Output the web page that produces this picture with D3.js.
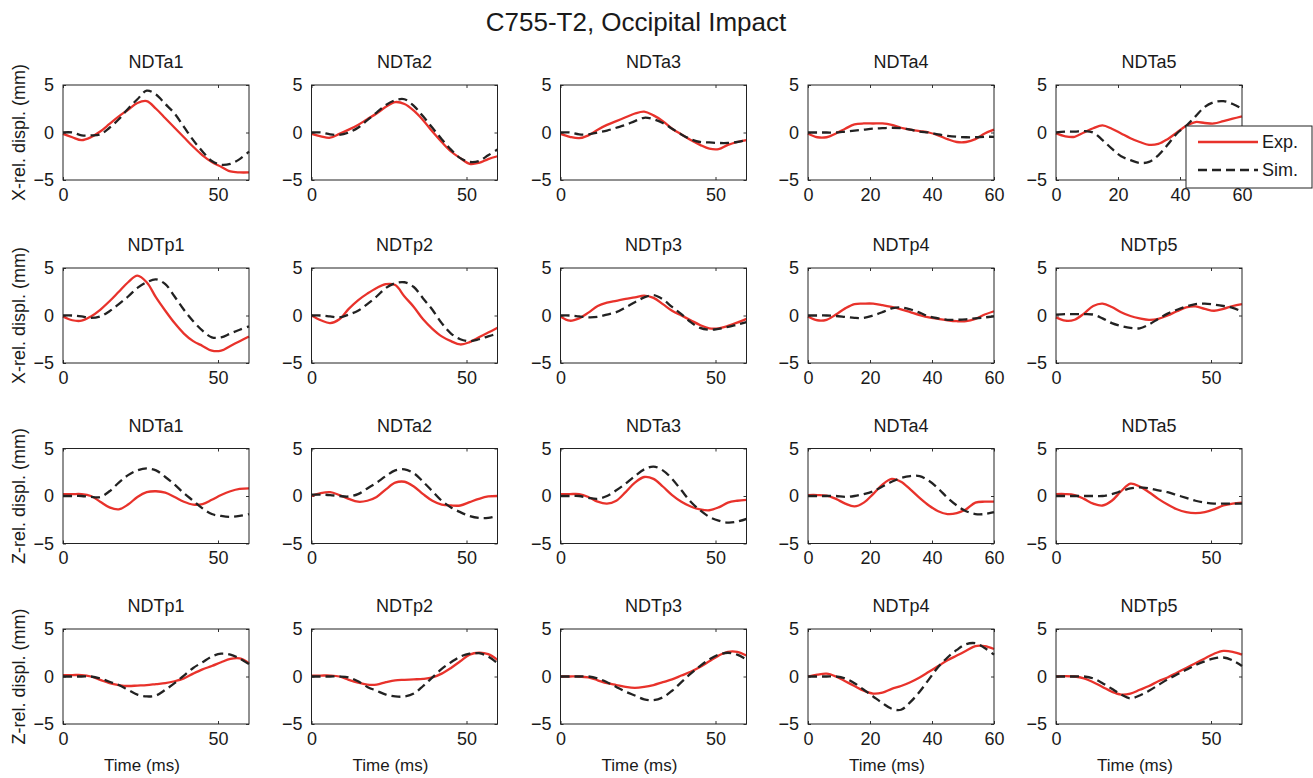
<!DOCTYPE html>
<html>
<head>
<meta charset="utf-8">
<script src="https://cdn.jsdelivr.net/npm/d3@7"></script>
<style>
  body { margin: 0; background: #fff; }
  svg text { font-family: "Liberation Sans", Arial, Helvetica, sans-serif; fill: #1a1a1a; }
</style>
</head>
<body>
<svg id="chart" width="1313" height="778"></svg>
<script>
// sample times (ms)
const times = [0, 3, 6, 9, 12, 15, 18, 21, 24, 27, 30, 33, 36, 39, 42, 45, 48, 51, 54, 57, 60];

const antNames = ['NDTa1', 'NDTa2', 'NDTa3', 'NDTa4', 'NDTa5'];
const postNames = ['NDTp1', 'NDTp2', 'NDTp3', 'NDTp4', 'NDTp5'];
const yLabels = ['X-rel. displ. (mm)', 'X-rel. displ. (mm)', 'Z-rel. displ. (mm)', 'Z-rel. displ. (mm)'];
const yTicks = [-5, 0, 5];
const xTicksShort = [0, 50];
const xTicksLong = [0, 20, 40, 60];
// 1 = panel uses the 0/20/40/60 ticks
const longTickPanels = [[0, 0, 0, 1, 1], [0, 0, 0, 1, 0], [0, 0, 0, 1, 0], [0, 0, 0, 1, 0]];

// X displacement, anterior markers
const xAntExp = [
  [-0.15, -0.5, -0.8, -0.5, 0.1, 0.9, 1.7, 2.4, 3.1, 3.3, 2.5, 1.5, 0.5, -0.5, -1.5, -2.4, -3.1, -3.6, -4.1, -4.2, -4.2],
  [-0.15, -0.4, -0.55, -0.15, 0.3, 0.8, 1.4, 2.0, 2.7, 3.2, 3.0, 2.3, 1.3, 0.1, -1.0, -2.0, -2.7, -3.3, -3.2, -2.8, -2.5],
  [-0.15, -0.45, -0.6, -0.3, 0.3, 0.8, 1.2, 1.6, 2.0, 2.2, 1.8, 1.2, 0.4, -0.2, -0.8, -1.3, -1.7, -1.75, -1.3, -1.0, -0.8],
  [-0.1, -0.5, -0.5, -0.1, 0.4, 0.85, 0.95, 0.95, 0.95, 0.8, 0.5, 0.3, 0.15, 0, -0.3, -0.7, -1.0, -1.0, -0.7, -0.1, 0.3],
  [-0.1, -0.4, -0.45, 0, 0.45, 0.75, 0.4, -0.1, -0.6, -1.0, -1.3, -1.2, -0.7, 0, 0.7, 1.1, 1.0, 0.95, 1.2, 1.45, 1.7]
];
const xAntSim = [
  [0, 0, -0.3, -0.3, -0.2, 0.5, 1.4, 2.5, 3.5, 4.4, 4.0, 3.0, 2.0, 0.6, -0.8, -2.0, -3.0, -3.4, -3.3, -2.8, -2.0],
  [0, 0, -0.2, -0.25, 0, 0.5, 1.3, 2.1, 2.9, 3.4, 3.5, 2.8, 1.7, 0.5, -0.7, -1.8, -2.7, -3.1, -3.0, -2.4, -1.8],
  [0, 0, -0.2, -0.2, 0, 0.2, 0.5, 0.8, 1.2, 1.55, 1.4, 1.0, 0.4, -0.2, -0.7, -1.0, -1.05, -1.1, -1.1, -1.0, -0.8],
  [0, 0, 0, 0, 0.1, 0.2, 0.3, 0.4, 0.45, 0.5, 0.45, 0.3, 0.1, 0, -0.2, -0.35, -0.45, -0.5, -0.5, -0.45, -0.45],
  [0, 0.1, 0.1, 0.15, 0, -0.8, -1.7, -2.5, -2.9, -3.2, -3.1, -2.4, -1.3, -0.1, 0.7, 1.7, 2.7, 3.2, 3.3, 3.0, 2.5]
];

// X displacement, posterior markers
const xPostExp = [
  [-0.1, -0.5, -0.55, -0.1, 0.6, 1.5, 2.5, 3.5, 4.2, 3.5, 1.9, 0.5, -0.8, -1.9, -2.7, -3.2, -3.7, -3.7, -3.2, -2.7, -2.2],
  [0, -0.5, -0.8, -0.4, 0.7, 1.6, 2.3, 2.9, 3.3, 3.2, 2.0, 0.9, -0.4, -1.4, -2.2, -2.7, -3.05, -2.8, -2.3, -1.8, -1.3],
  [-0.1, -0.55, -0.3, 0.3, 1.0, 1.35, 1.55, 1.75, 1.9, 2.1, 1.85, 1.2, 0.5, 0, -0.5, -1.0, -1.35, -1.35, -1.1, -0.75, -0.35],
  [-0.1, -0.5, -0.45, 0.1, 0.75, 1.2, 1.25, 1.25, 1.1, 0.9, 0.65, 0.35, 0.05, -0.2, -0.35, -0.5, -0.6, -0.6, -0.35, 0.1, 0.45],
  [-0.2, -0.55, -0.45, 0.2, 1.0, 1.25, 0.9, 0.35, -0.05, -0.3, -0.45, -0.35, 0, 0.45, 0.85, 0.95, 0.7, 0.5, 0.7, 1.0, 1.2]
];
const xPostSim = [
  [0, 0, -0.1, -0.25, -0.1, 0.45, 1.2, 2.0, 2.9, 3.5, 3.8, 3.3, 2.0, 0.6, -0.6, -1.6, -2.3, -2.3, -1.9, -1.5, -1.15],
  [0, 0, -0.1, -0.2, 0.1, 0.5, 1.2, 2.0, 2.9, 3.4, 3.5, 3.0, 1.8, 0.6, -0.8, -1.9, -2.5, -2.7, -2.5, -2.2, -1.9],
  [0, 0, -0.1, -0.2, -0.15, 0.1, 0.35, 0.85, 1.4, 1.9, 2.15, 1.7, 0.9, 0.15, -0.7, -1.3, -1.5, -1.4, -1.2, -0.95, -0.7],
  [0, 0, 0, -0.05, -0.15, -0.25, -0.25, 0, 0.35, 0.75, 0.85, 0.65, 0.3, -0.1, -0.3, -0.45, -0.45, -0.4, -0.3, -0.2, -0.1],
  [0.1, 0.15, 0.15, 0.15, 0.1, -0.3, -0.8, -1.1, -1.3, -1.35, -0.95, -0.35, 0.2, 0.6, 0.95, 1.2, 1.25, 1.15, 1.0, 0.8, 0.4]
];

// Z displacement, anterior markers
const zAntExp = [
  [0.2, 0.2, 0.2, 0, -0.6, -1.2, -1.4, -0.9, -0.1, 0.4, 0.5, 0.35, -0.1, -0.6, -0.9, -0.85, -0.4, 0.1, 0.5, 0.75, 0.8],
  [0, 0.3, 0.4, 0.1, -0.3, -0.6, -0.5, -0.1, 0.7, 1.4, 1.5, 1.0, 0.2, -0.5, -0.9, -1.0, -1.0, -0.65, -0.3, -0.05, 0],
  [0.2, 0.2, 0.2, -0.1, -0.6, -0.8, -0.5, 0.4, 1.4, 2.0, 1.8, 1.0, 0.1, -0.6, -1.1, -1.4, -1.5, -1.2, -0.7, -0.5, -0.4],
  [0.1, 0.1, 0.05, -0.3, -0.8, -1.1, -0.7, 0.2, 1.2, 1.8, 1.5, 0.7, -0.2, -1.0, -1.6, -1.9, -1.8, -1.4, -0.7, -0.6, -0.6],
  [0.2, 0.2, 0.1, -0.3, -0.8, -1.0, -0.5, 0.5, 1.3, 1.0, 0.4, -0.3, -0.9, -1.4, -1.7, -1.8, -1.7, -1.4, -1.0, -0.8, -0.7]
];
const zAntSim = [
  [0, 0, 0, -0.1, -0.1, 0.5, 1.4, 2.2, 2.7, 2.9, 2.7, 2.0, 1.2, 0.3, -0.5, -1.3, -1.9, -2.1, -2.2, -2.1, -1.9],
  [0.15, 0.15, 0.1, 0, -0.05, 0.2, 0.8, 1.4, 2.1, 2.7, 2.8, 2.4, 1.5, 0.5, -0.5, -1.2, -1.7, -2.1, -2.3, -2.3, -2.1],
  [0, 0, 0, -0.2, -0.3, 0, 0.6, 1.3, 2.1, 2.8, 3.1, 2.7, 1.8, 0.6, -0.6, -1.5, -2.2, -2.6, -2.8, -2.7, -2.4],
  [0, 0, 0, 0, -0.1, 0, 0.2, 0.5, 1.0, 1.5, 1.9, 2.1, 2.1, 1.6, 0.8, -0.2, -1.0, -1.6, -1.9, -1.9, -1.7],
  [0, 0, 0, 0, 0, 0, 0.2, 0.5, 0.8, 0.9, 0.8, 0.6, 0.4, 0.1, -0.2, -0.5, -0.7, -0.8, -0.8, -0.8, -0.8]
];

// Z displacement, posterior markers
const zPostExp = [
  [0.15, 0.15, 0.15, 0, -0.35, -0.7, -0.9, -1.0, -0.95, -0.9, -0.8, -0.7, -0.5, -0.2, 0.3, 0.75, 1.1, 1.5, 1.85, 1.9, 1.4],
  [0.1, 0.1, 0.1, 0, -0.35, -0.65, -0.85, -0.85, -0.6, -0.4, -0.35, -0.3, -0.25, -0.1, 0.3, 0.9, 1.6, 2.3, 2.5, 2.35, 1.75],
  [0, 0, 0, -0.1, -0.4, -0.7, -0.9, -1.1, -1.2, -1.1, -0.9, -0.6, -0.3, 0.1, 0.5, 1.0, 1.6, 2.2, 2.6, 2.6, 2.2],
  [0, 0.2, 0.3, 0, -0.5, -1.0, -1.5, -1.8, -1.7, -1.3, -1.0, -0.6, -0.1, 0.5, 1.1, 1.7, 2.2, 2.7, 3.2, 3.2, 2.9],
  [0, 0.05, 0, -0.2, -0.6, -1.1, -1.6, -1.9, -1.8, -1.4, -1.0, -0.5, -0.1, 0.4, 0.9, 1.4, 1.9, 2.4, 2.7, 2.6, 2.3]
];
const zPostSim = [
  [0, 0, 0, 0, -0.2, -0.55, -0.9, -1.4, -1.9, -2.1, -2.0, -1.4, -0.7, 0.1, 0.9, 1.5, 2.1, 2.4, 2.3, 1.9, 1.3],
  [0, 0, 0, 0, -0.1, -0.5, -1.1, -1.5, -1.9, -2.1, -2.1, -1.8, -1.0, -0.1, 0.8, 1.5, 2.1, 2.4, 2.45, 2.1, 1.4],
  [0, 0, 0, 0, -0.2, -0.6, -1.1, -1.6, -2.0, -2.4, -2.5, -2.2, -1.5, -0.6, 0.3, 1.1, 1.8, 2.3, 2.5, 2.3, 1.8],
  [0, 0, 0, 0, -0.2, -0.7, -1.4, -2.1, -2.8, -3.4, -3.5, -2.7, -1.6, -0.3, 1.0, 2.0, 2.8, 3.4, 3.5, 3.0, 2.3],
  [0, 0, 0, 0, -0.2, -0.7, -1.3, -1.9, -2.3, -2.0, -1.5, -0.9, -0.3, 0.2, 0.7, 1.2, 1.6, 1.9, 2.0, 1.7, 1.1]
];

const rows = [
  { names: antNames, exp: xAntExp, sim: xAntSim },
  { names: postNames, exp: xPostExp, sim: xPostSim },
  { names: antNames, exp: zAntExp, sim: zAntSim },
  { names: postNames, exp: zPostExp, sim: zPostSim }
];

const svg = d3.select('#chart');
const expColor = '#e8322b';
const simColor = '#222';

const colLeft = [63, 311.5, 560.5, 808, 1056];
const rowTop = [85, 268, 448.5, 629];
const pw = 186;
const ph = 95;

svg.append('text')
  .attr('x', 636)
  .attr('y', 31)
  .attr('text-anchor', 'middle')
  .style('font-size', '26px')
  .text('C755-T2, Occipital Impact');

const x = d3.scaleLinear().domain([0, 60]).range([0, pw]);
const y = d3.scaleLinear().domain([-5, 5]).range([ph, 0]);

const line = d3.line()
  .x((d, i) => x(times[i]))
  .y(d => y(d))
  .curve(d3.curveCatmullRom.alpha(0.5));

rows.forEach((row, r) => {
  // row label
  svg.append('text')
    .attr('transform', `translate(25,${rowTop[r] + ph / 2}) rotate(-90)`)
    .attr('text-anchor', 'middle')
    .style('font-size', '18px')
    .text(yLabels[r]);

  row.names.forEach((name, c) => {
    const g = svg.append('g').attr('transform', `translate(${colLeft[c]},${rowTop[r]})`);
    const xt = longTickPanels[r][c] ? xTicksLong : xTicksShort;

    g.append('text')
      .attr('x', pw / 2)
      .attr('y', -17)
      .attr('text-anchor', 'middle')
      .style('font-size', '18px')
      .text(name);

    g.append('rect')
      .attr('width', pw)
      .attr('height', ph)
      .attr('fill', '#fff');

    const axB = g.append('g').attr('transform', `translate(0,${ph})`)
      .call(d3.axisBottom(x).tickValues(xt).tickSize(-3).tickPadding(8));
    const axL = g.append('g')
      .call(d3.axisLeft(y).tickValues(yTicks).tickSize(-3).tickPadding(9));
    g.append('g').call(d3.axisTop(x).tickValues(xt).tickSize(-3).tickFormat(''));
    g.append('g').attr('transform', `translate(${pw},0)`)
      .call(d3.axisRight(y).tickValues(yTicks).tickSize(-3).tickFormat(''));

    g.selectAll('.domain').remove();
    g.selectAll('.tick line').attr('stroke', '#333');
    [axB, axL].forEach(a => a.selectAll('text')
      .style('font-size', '18px')
      .style('font-family', '"Liberation Sans", Arial, sans-serif')
      .attr('fill', '#1a1a1a'));

    g.append('path')
      .datum(row.exp[c])
      .attr('d', line)
      .attr('fill', 'none')
      .attr('stroke', expColor)
      .attr('stroke-width', 2.3);

    g.append('path')
      .datum(row.sim[c])
      .attr('d', line)
      .attr('fill', 'none')
      .attr('stroke', simColor)
      .attr('stroke-width', 2.3)
      .attr('stroke-dasharray', '9,5');

    g.append('rect')
      .attr('width', pw)
      .attr('height', ph)
      .attr('fill', 'none')
      .attr('stroke', '#222')
      .attr('stroke-width', 1);

    if (r === rows.length - 1) {
      g.append('text')
        .attr('x', 79)
        .attr('y', ph + 47)
        .attr('text-anchor', 'middle')
        .style('font-size', '17px')
        .text('Time (ms)');
    }
  });
});

// legend, sits over the top-right panel
const legend = svg.append('g').attr('transform', 'translate(1186,126)');
legend.append('rect')
  .attr('width', 126)
  .attr('height', 62)
  .attr('fill', '#fff')
  .attr('stroke', '#222')
  .attr('stroke-width', 1);
const legendItems = [
  { label: 'Exp.', color: expColor, dash: null },
  { label: 'Sim.', color: simColor, dash: '9,5' }
];
legendItems.forEach((d, i) => {
  const yy = 16 + i * 28;
  legend.append('line')
    .attr('x1', 12).attr('x2', 72)
    .attr('y1', yy).attr('y2', yy)
    .attr('stroke', d.color)
    .attr('stroke-width', 2.3)
    .attr('stroke-dasharray', d.dash);
  legend.append('text')
    .attr('x', 76)
    .attr('y', yy + 6)
    .style('font-size', '18px')
    .text(d.label);
});
</script>
</body>
</html>
